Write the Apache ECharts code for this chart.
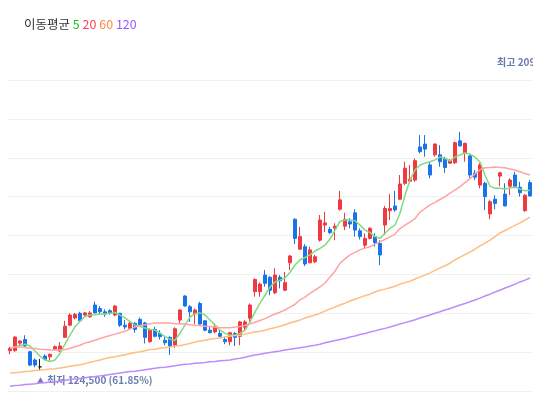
<!DOCTYPE html>
<html><head><meta charset="utf-8">
<script src="https://cdn.jsdelivr.net/npm/echarts@6/dist/echarts.min.js"></script>
<style>html,body{margin:0;padding:0;background:#fff}#c{width:533px;height:394px}</style>
</head><body><div id="c"></div>
<script>
const days = [1,2,3,4,5,6,7,8,9,10,11,12,13,14,15,16,17,18,19,20,21,22,23,24,25,26,27,28,29,30,
31,32,33,34,35,36,37,38,39,40,41,42,43,44,45,46,47,48,49,50,51,52,53,54,55,56,57,58,59,60,
61,62,63,64,65,66,67,68,69,70,71,72,73,74,75,76,77,78,79,80,81,82,83,84,85,86,87,88,89,90,
91,92,93,94,95,96,97,98,99,100,101,102,103,104,105];
// [open, close, low, high]
const candles = [
[130000,130600,129000,131100],[130000,133800,129700,134000],[132100,132700,131100,132900],[133100,131300,131100,134300],
[129700,126000,125700,130000],[127400,126000,125400,127900],[125500,125500,124500,127700],[128500,127600,127400,129000],
[128300,129000,127200,129200],[130400,131100,130200,131500],[129900,131300,129700,132400],[133700,136800,133600,138300],
[137100,139900,136800,140400],[139100,140100,138700,140500],[140400,138300,138000,140800],[139900,140500,139400,140800],
[139400,140500,139200,141000],[142700,140500,140400,143600],[141700,140800,140200,142400],[140800,140200,139400,141500],
[141100,140400,140000,141500],[139900,142400,139600,142700],[140400,137100,136600,140500],[137100,136600,135900,138500],
[136200,137600,135700,138000],[137600,135900,135000,138000],[138700,137100,136600,139200],[137700,133700,132000,138000],
[132500,135900,132200,136200],[135900,134000,133700,136600],[134800,133900,133100,135700],[132900,132200,131500,133900],
[133700,131300,128800,134000],[131500,136100,130700,136500],[138500,141300,137400,141500],[145200,142400,142200,145400],
[142200,140800,138000,142700],[140200,141300,137400,141700],[143100,137400,137100,143600],[138300,135700,135400,138500],
[135700,135000,134800,136800],[135200,136800,134800,137600],[134800,134000,133700,135900],[133100,132500,131800,133900],
[132500,135000,131500,135200],[134800,133700,131300,135200],[134000,138000,131500,138300],[136500,138000,135700,138500],
[139000,142700,138000,143100],[146400,149800,145000,150100],[146400,148500,145000,148900],[151000,148700,147800,152400],
[150400,146800,145400,150700],[146100,151000,145700,152900],[150400,149400,147300,151000],[146800,148900,146600,151900],
[154400,156300,152400,156600],[166500,161200,159600,166800],[158200,161700,158000,164400],[158900,154100,153500,159600],
[154400,158000,154300,158900],[154700,156100,154300,156600],[160700,166300,160300,167700],[164900,165500,163000,168600],
[163700,162800,162400,164400],[164000,164600,160700,165400],[169300,171900,168900,174400],[164600,166500,163500,168300],
[165800,165200,164000,166800],[168300,163500,161700,169300],[163300,161700,160900,164000],[159300,161200,158400,162600],
[161200,164000,160900,164300],[161700,160000,158900,162600],[159800,156600,153800,160700],[164900,169500,162100,170200],
[168900,169500,166300,173500],[170200,169100,168600,174400],[172100,176300,171900,178800],[176500,180700,176000,182500],
[177100,177600,176900,181600],[177400,182800,176900,183400],[186600,185300,184800,189900],[187400,186000,183900,189900],
[181600,178800,177900,182500],[184400,187400,183900,187600],[184400,182500,181100,187100],[183400,180900,179400,183900],
[182100,182800,181900,183200],[182200,187800,181900,188100],[188300,186900,186700,190800],[184800,187600,182500,187800],
[184100,178800,177900,184400],[179300,178200,177400,180200],[176000,181600,175100,182100],[176500,172800,169100,176900],
[168000,171400,166500,171900],[172100,170900,169300,173200],[178500,179400,175700,179700],[173500,170200,170200,176500],
[175700,177400,173200,177900],[178800,175600,175100,179700],[175400,173900,172800,176900],[168900,173200,168600,173500],
[176700,173000,172800,177400]];
const ma5 = [130700,131000,131500,131800,131300,129900,128500,127400,127000,127400,
129300,131800,134300,136600,138200,139500,139900,140000,140200,140200,
140400,140600,139900,139100,138100,137100,136700,136300,135900,135700,
134900,133900,133200,132900,134900,137100,139300,140300,140500,139900,
138500,137100,135700,134800,134300,134300,134800,135700,138000,140700,
143200,145400,147700,149100,149600,150200,151800,153800,155200,155900,
156600,157700,158400,159300,161000,163500,165900,166300,166300,166100,
164900,163500,162800,161700,161200,162600,164000,164900,168200,173200,
177400,180200,181600,182100,182500,183000,183800,183400,182700,183800,
184400,184900,184600,183800,182400,178800,175700,175100,175100,174900,
175200,175500,174900,174400,174600];
const ma20 = [130700,131000,131000,130900,130700,130600,130400,130300,130200,130200,
130200,130300,130700,131100,131500,132100,132500,132900,133400,133800,
134200,134600,135000,135400,136000,136600,137000,137200,137500,137700,
137700,137700,137700,137500,137500,137400,137200,137100,137000,136800,
136700,136600,136400,136400,136400,136600,136700,137000,137500,137900,
138400,138900,139600,140200,140700,141300,142100,142900,144100,144900,
145900,146800,147700,148800,150500,152100,154300,155500,156600,157300,
158000,158500,158900,159600,160300,160900,161600,162400,163900,164900,
165700,166700,168500,169500,170500,171200,172000,172800,173800,174600,
175600,176700,177800,179100,180300,180800,180900,181000,180900,180800,
180500,180200,179700,179200,178800];
const ma60 = [123800,123900,124000,124200,124300,124500,124600,124700,124900,125000,
125200,125400,125700,125900,126100,126400,126800,127100,127400,127800,
128100,128300,128600,128900,129200,129500,129700,130000,130300,130400,
130700,130900,131000,131300,131400,131700,132000,132400,132700,132900,
133200,133400,133500,133800,134000,134200,134300,134600,134900,135200,
135400,135700,136100,136400,136800,137200,137700,138100,138500,139100,
139500,139900,140400,141000,141600,142100,142700,143200,143800,144300,
144800,145300,145700,146300,146800,147100,147500,147900,148500,148900,
149300,149900,150500,151000,151600,152300,153000,153600,154300,155200,
156000,156700,157400,158200,159100,159900,160700,161700,162700,163400,
164100,164800,165500,166300,167100];
const ma120 = [120100,120300,120400,120600,120700,120800,121000,121100,121300,121400,
121600,121800,122000,122100,122300,122500,122700,122800,123000,123200,
123400,123600,123800,124000,124200,124300,124500,124700,124900,125100,
125300,125400,125600,125800,126000,126200,126300,126500,126600,126700,
126900,127000,127200,127300,127400,127700,127900,128200,128500,128800,
129000,129300,129500,129700,129900,130200,130400,130600,130800,131000,
131300,131500,131800,132200,132500,132800,133100,133400,133800,134100,
134500,134800,135200,135500,135900,136200,136600,137000,137400,137800,
138200,138600,139100,139500,139900,140400,140800,141300,141700,142200,
142700,143100,143600,144100,144600,145200,145700,146300,146800,147400,
147900,148500,149100,149600,150200];
const lowIndex = 6;
const highValue = 209500;
const lowLabel = '최저 124,500 (61.85%)';
const highLabel = '최고 209,500 (-3.82%)';

const FONT = '"Noto Sans CJK KR", "Noto Sans", sans-serif';
const chart = echarts.init(document.getElementById('c'));
const maLine = (name, data, color) => ({
  name, type: 'line', data, symbol: 'none', z: 3,
  lineStyle: { width: 1.5, color }, itemStyle: { color }, silent: true, animation: false
});
chart.setOption({
  backgroundColor: '#fff',
  animation: false,
  title: {
    left: 19, top: 13,
    text: '{a|이동평균} {g|5} {r|20} {o|60} {p|120}',
    textStyle: {
      fontFamily: FONT, fontSize: 12.5, fontWeight: 'normal',
      rich: {
        a: { color: '#333', fontSize: 12.5, fontFamily: FONT },
        g: { color: '#19c119', fontSize: 12.5, fontFamily: FONT },
        r: { color: '#ff3f55', fontSize: 12.5, fontFamily: FONT },
        o: { color: '#ff8a3d', fontSize: 12.5, fontFamily: FONT },
        p: { color: '#9b59ff', fontSize: 12.5, fontFamily: FONT }
      }
    }
  },
  grid: { left: 7.5, right: 0.5, top: 80, height: 311, containLabel: false },
  xAxis: {
    type: 'category', data: days, boundaryGap: true,
    axisLine: { show: false }, axisTick: { show: false }, axisLabel: { show: false }, splitLine: { show: false }
  },
  yAxis: {
    type: 'value', position: 'right', min: 118800, max: 205200, interval: 10800,
    axisLine: { show: false }, axisTick: { show: false }, axisLabel: { show: false },
    splitLine: { show: true, lineStyle: { color: '#f0f0f0', width: 1 } }
  },
  series: [
    {
      type: 'candlestick', data: candles, barWidth: 3, z: 2, clip: false,
      itemStyle: {
        color: '#ee3a40', color0: '#1a74e8',
        borderColor: '#ee3a40', borderColor0: '#1a74e8', borderColorDoji: '#222', borderWidth: 1
      }
    },
    maLine('5', ma5, '#82d982'),
    maLine('20', ma20, '#ffa3a3'),
    maLine('60', ma60, '#ffbd80'),
    maLine('120', ma120, '#bb8dff')
  ],
  graphic: []
});
const lp = chart.convertToPixel({ gridIndex: 0 }, [lowIndex, candles[lowIndex][2]]);
const hp = chart.convertToPixel({ gridIndex: 0 }, [0, highValue]);
chart.setOption({
  graphic: [
    { type: 'text', x: lp[0] - 3, y: lp[1] + 10, style: { text: '▲', fill: '#6a7bb0', font: '7px ' + FONT, verticalAlign: 'middle' } },
    { type: 'text', x: lp[0] + 7, y: lp[1] + 10, style: { text: lowLabel, fill: '#6a7bb0', font: 'bold 10px ' + FONT, verticalAlign: 'middle' } },
    { type: 'text', x: 497, y: hp[1] - 2, style: { text: highLabel, fill: '#6a7bb0', font: 'bold 10px ' + FONT, verticalAlign: 'middle' } }
  ]
});
</script></body></html>
